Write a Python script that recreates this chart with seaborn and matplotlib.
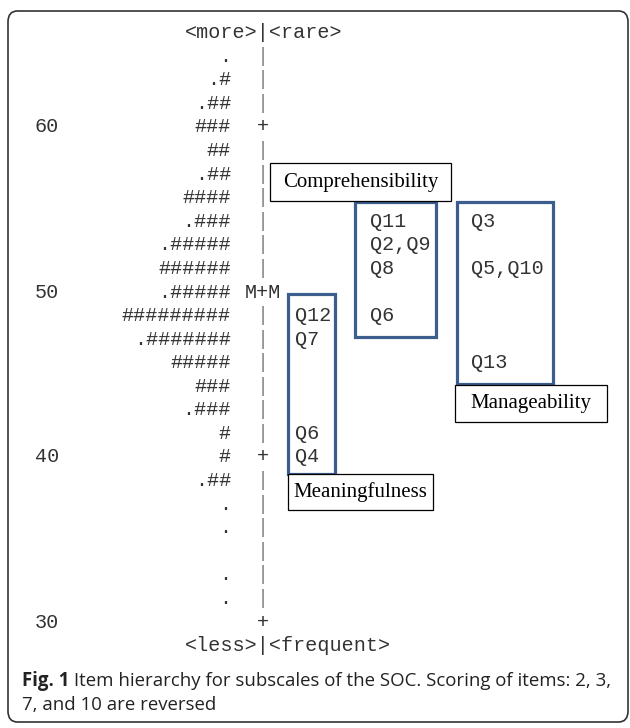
import matplotlib
matplotlib.use("Agg")
import matplotlib.pyplot as plt
import seaborn as sns
from matplotlib.patches import Rectangle, FancyBboxPatch

sns.set_theme(style="white")
plt.rcParams['font.family'] = ['Liberation Mono', 'DejaVu Sans Mono']

# =====================
# Data: person distribution (one row per map level, top to bottom)
# =====================
levels = [64.3, 62.9, 61.4, 60.0, 58.6, 57.1, 55.7, 54.3, 52.9, 51.4, 50.0, 48.6, 47.1,
          45.7, 44.3, 42.9, 41.4, 40.0, 38.6, 37.1, 35.7, 34.3, 32.9, 31.4, 30.0]
hashes = [0, 1, 2, 3, 2, 2, 4, 3, 5, 6, 5, 9, 7, 5, 3, 3, 1, 1, 2, 0, 0, 0, 0, 0, 0]
dots = [1, 1, 1, 0, 0, 1, 0, 1, 1, 0, 1, 0, 1, 0, 0, 1, 0, 0, 1, 1, 1, 0, 1, 1, 0]
tick_values = [60, 50, 40, 30]
mean_level = 50.0

# item locations per subscale
comp_items = ["Q11", "Q2,Q9", "Q8", "Q6"]
comp_values = [54.3, 52.9, 51.4, 48.6]
manage_items = ["Q3", "Q5,Q10", "Q13"]
manage_values = [54.3, 51.4, 45.7]
meaning_items = ["Q12", "Q7", "Q6", "Q4"]
meaning_values = [48.6, 47.1, 41.4, 40.0]

# =====================
# Figure setup (x in pixels, y in measure units)
# =====================
W, H = 630, 728
px_per_unit = 16.5
y_top = 60 + 127 / px_per_unit
y_bot = 60 - (H - 127) / px_per_unit

fig = plt.figure(figsize=(W / 100, H / 100), dpi=100)
ax = fig.add_axes([0, 0, 1, 1])
ax.set_xlim(0, W)
ax.set_ylim(y_bot, y_top)
ax.set_axis_off()

mono = 14.5
cw = mono * 100 / 72 * 0.6  # char width in px
sep_x = 263
blue = '#3b5e8c'
ink = '#333333'

# person column
for lv, h, d in zip(levels, hashes, dots):
    s = '.' * d + '#' * h
    if s:
        ax.text(231, lv, s, ha='right', va='center', fontsize=mono, color=ink)
    if abs(lv - mean_level) < 0.05:
        mark = 'M+M'
    elif any(abs(lv - t) < 0.05 for t in tick_values):
        mark = '+'
    else:
        mark = '|'
    col = ink if mark != '|' else '#888888'
    ax.text(sep_x, lv, mark, ha='center', va='center', fontsize=mono, color=col)

for t in tick_values:
    ax.text(35, t, str(t), ha='left', va='center', fontsize=mono, color=ink)

step = levels[0] - levels[1]
ax.text(sep_x - 6.5 * cw, levels[0] + step, '<more>|<rare>', ha='left', va='center',
        fontsize=mono, color=ink)
ax.text(sep_x - 6.5 * cw, levels[-1] - step, '<less>|<frequent>', ha='left', va='center',
        fontsize=mono, color=ink)


# =====================
# Subscale boxes
# =====================
def item_box(names, values, x0, x1, text_x, pad_top, pad_bot):
    for n, v in zip(names, values):
        ax.text(text_x, v, n, ha='left', va='center', fontsize=mono, color=ink)
    top = max(values) + pad_top
    bot = min(values) - pad_bot
    ax.add_patch(Rectangle((x0, bot), x1 - x0, top - bot, fill=False,
                           edgecolor=blue, linewidth=2.3, zorder=3))
    return top, bot


def label_box(text, x0, x1, y0, y1):
    ax.add_patch(Rectangle((x0, y0), x1 - x0, y1 - y0, facecolor='white',
                           edgecolor='black', linewidth=0.9, zorder=4))
    ax.text((x0 + x1) / 2, (y0 + y1) / 2, text, ha='center', va='center',
            fontsize=15, family='Liberation Serif', color='black', zorder=5)


ct, cb = item_box(comp_items, comp_values, 355, 436, 370, 1.15, 1.3)
mt, mb = item_box(manage_items, manage_values, 457, 553, 471, 1.15, 1.3)
gt, gb = item_box(meaning_items, meaning_values, 288, 335, 295, 1.3, 1.0)

label_box('Comprehensibility', 270, 451, ct + 0.05, ct + 2.35)
label_box('Manageability', 455, 607, mb - 2.25, mb - 0.05)
label_box('Meaningfulness', 288, 433, gb - 2.2, gb - 0.05)

# =====================
# Caption and frame
# =====================
cap = 13.4
t1 = fig.text(22 / W, 1 - 681 / H, 'Fig. 1', ha='left', va='center',
              fontsize=cap, family='Open Sans', weight='bold', color='#222222')
ax.annotate(' Item hierarchy for subscales of the SOC. Scoring of items: 2, 3,',
            xy=(1, 0.5), xycoords=t1, ha='left', va='center', fontsize=cap,
            family='Open Sans', color='#222222')
fig.text(22 / W, 1 - 705 / H, '7, and 10 are reversed', ha='left', va='center',
         fontsize=cap, family='Open Sans', color='#222222')

frame = FancyBboxPatch((8 / W, 1 - 722 / H), 620 / W, 711 / H,
                       boxstyle='round,pad=0,rounding_size=0.015',
                       transform=fig.transFigure, fill=False, edgecolor='#333333',
                       linewidth=1.2)
fig.patches.append(frame)

fig.savefig('out.png', dpi=100)
